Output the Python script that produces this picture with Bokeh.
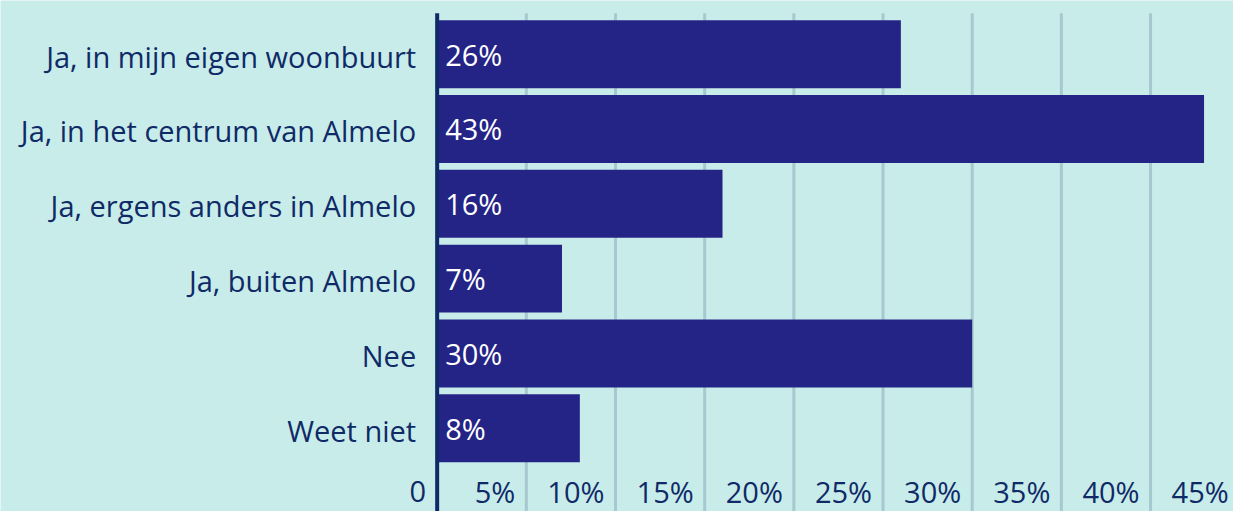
from bokeh.plotting import figure
from bokeh.models import Range1d, ColumnDataSource
from bokeh.core.properties import value
from bokeh.embed import file_html
from bokeh.resources import INLINE

categories = ["Ja, in mijn eigen woonbuurt", "Ja, in het centrum van Almelo",
              "Ja, ergens anders in Almelo", "Ja, buiten Almelo", "Nee", "Weet niet"]
values = [26, 43, 16, 7, 30, 8]
tick_values = [0, 5, 10, 15, 20, 25, 30, 35, 40, 45]
tick_labels = ["0", "5%", "10%", "15%", "20%", "25%", "30%", "35%", "40%", "45%"]

BG = "#c8ecea"
BAR = "#242486"
NAVY = "#0f2a66"
GRID = "#a8c8d0"
FONT = "Open Sans"
FS = "29px"

W, H = 1233, 511
SX, SY = W / 1241, H / 519
pxu = 17.95 * SX          # pixels per percent
zero_px = 439.5 * SX      # frame x of zero
pitch = 76.0 * SY         # pixels per category
c0 = 54.5 * SY            # frame y of first category centre

x0 = -zero_px / pxu
x1 = x0 + W / pxu
ytop = c0 / pitch
ybot = -(H - c0) / pitch

p = figure(width=W, height=H, output_backend="svg", toolbar_location=None,
           x_range=Range1d(x0, x1), y_range=Range1d(ybot, ytop),
           x_axis_location=None, y_axis_location=None, min_border=0,
           background_fill_color=BG, border_fill_color=BG, outline_line_color=None)
p.grid.visible = False

ypos = [-i for i in range(len(categories))]
src = ColumnDataSource(dict(cat=categories, val=values, y=ypos,
                            lab=[f"{v}%" for v in values], zero=[0] * len(values)))

grid_top = ((54.5 - 13) * SY) / pitch
gx = tick_values[1:]
p.segment(x0=gx, x1=gx, y0=[grid_top] * len(gx), y1=[ybot] * len(gx),
          line_color=GRID, line_width=3)

p.hbar(y="y", left=0, right="val", height=69 / 76, source=src,
       fill_color=BAR, line_color=None)

p.segment(x0=[0], x1=[0], y0=[grid_top], y1=[ybot], line_color=NAVY, line_width=4)

p.text(x="zero", y="y", text="lab", source=src, text_color="white",
       text_font=value(FONT), text_font_size=FS, text_align="left",
       text_baseline="middle", x_offset=8)

p.text(x="zero", y="y", text="cat", source=src, text_color=NAVY,
       text_font=value(FONT), text_font_size=FS, text_align="right",
       text_baseline="middle", x_offset=-21, y_offset=2)

ty = -(491 - c0) / pitch
p.text(x=tick_values, y=[ty] * len(tick_values), text=tick_labels, text_color=NAVY,
       text_font=value(FONT), text_font_size=FS, text_align="right",
       text_baseline="middle", x_offset=-11)

open("out.html", "w").write(file_html(p, INLINE))
